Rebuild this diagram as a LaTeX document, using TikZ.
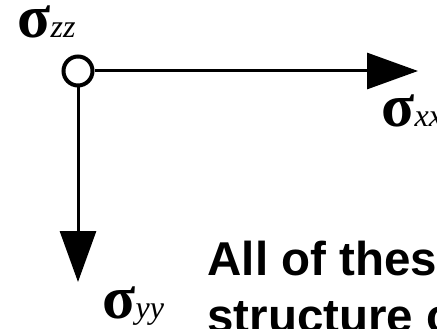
\documentclass[tikz,border=0pt]{standalone}
\usepackage{fontspec}
\setmainfont{Liberation Serif}
\setsansfont{Liberation Sans}
\usetikzlibrary{arrows.meta}
\tikzset{
  every picture/.style={line width=3pt},
  axis/.style={-{Triangle[length=51pt, width=36pt]}},
  origin/.style={circle, draw, line width=4pt, minimum size=29pt, inner sep=0pt},
  stress/.style={anchor=base west, inner sep=0pt, text height=0.45em, text depth=0.1em, font=\bfseries\fontsize{61}{61}\selectfont},
  lead/.style={anchor=base west, inner sep=0pt, font=\sffamily\bfseries\fontsize{47.5}{57}\selectfont},
}
\newcommand{\sig}[1]{σ{\mdseries\fontsize{32}{32}\selectfont\itshape #1}}

\begin{document}
\begin{tikzpicture}[x=1pt, y=-1pt]
  % page frame, the text runs off the right edge
  \useasboundingbox (0,0) rectangle (437,329);
  \clip (0,0) rectangle (437,329);
  \node[origin] (o) at (78,71) {};
  \coordinate (xtip) at (418,71);
  \coordinate (ytip) at (78,282);
  \draw[axis] (o) -- (xtip);
  \draw[axis] (o) -- (ytip);
  \node[stress] (szz) at (16,38) {\sig{zz}};
  \node[stress] (sxx) at (380,127) {\sig{xx}};
  \node[stress] (syy) at (101,318) {\sig{yy}};
  \node[lead] (line1) at (206,275) {All of these};
  \node[lead] (line2) at ([yshift=-57pt]line1.base west) {structure o};
\end{tikzpicture}
\end{document}
